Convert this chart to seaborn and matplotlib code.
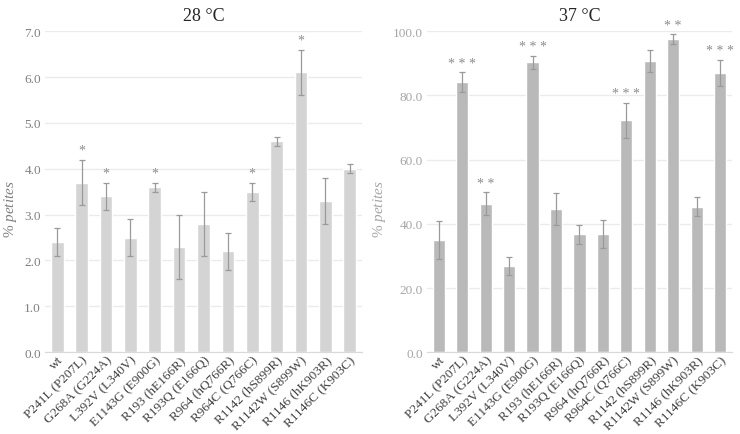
import pandas as pd
import matplotlib
matplotlib.use("Agg")
import matplotlib.pyplot as plt
import seaborn as sns

# data
strains = ["wt", "P241L (P207L)", "G268A (G224A)", "L392V (L340V)", "E1143G (E900G)",
           "R193 (hE166R)", "R193Q (E166Q)", "R964 (hQ766R)", "R964C (Q766C)",
           "R1142 (hS899R)", "R1142W (S899W)", "R1146 (hK903R)", "R1146C (K903C)"]
pet28 = [2.4, 3.7, 3.4, 2.5, 3.6, 2.3, 2.8, 2.2, 3.5, 4.6, 6.1, 3.3, 4.0]
err28 = [0.3, 0.5, 0.3, 0.4, 0.1, 0.7, 0.7, 0.4, 0.2, 0.1, 0.5, 0.5, 0.1]
sig28 = ["", "*", "*", "", "*", "", "", "", "*", "", "*", "", ""]
pet37 = [35.0, 84.2, 46.3, 26.8, 90.3, 44.5, 36.7, 36.9, 72.2, 90.7, 97.5, 45.3, 87.0]
err37 = [6.0, 3.0, 3.5, 2.8, 2.0, 5.0, 3.0, 4.3, 5.4, 3.5, 1.5, 3.0, 4.0]
sig37 = ["", "***", "**", "", "***", "", "", "", "***", "", "**", "", "***"]

sns.set_style("white")
plt.rcParams["font.family"] = ["Liberation Serif", "DejaVu Serif"]
plt.rcParams["mathtext.fontset"] = "custom"
plt.rcParams["mathtext.rm"] = "Liberation Serif"
plt.rcParams["mathtext.it"] = "Liberation Serif:italic"

fig = plt.figure(figsize=(7.4, 4.35), dpi=100)
ax1 = fig.add_axes([0.061, 0.188, 0.428, 0.738])
ax2 = fig.add_axes([0.577, 0.188, 0.412, 0.738])

panels = [
    (ax1, pet28, err28, sig28, "#d4d4d4", "28 °C", 7.0, 1.0, "#808080", -0.082),
    (ax2, pet37, err37, sig37, "#b9b9b9", "37 °C", 100.0, 20.0, "#a6a6a6", -0.128),
]

for ax, vals, errs, sig, col, title, ymax, step, tcol, lx in panels:
    df = pd.DataFrame({"strain": strains, "pct": vals})
    sns.barplot(data=df, x="strain", y="pct", color=col, width=0.52,
                saturation=1, errorbar=None, ax=ax)
    ax.errorbar(range(len(strains)), vals, yerr=errs, fmt="none",
                ecolor="#9a9a9a", elinewidth=0.9, capsize=2.5, capthick=0.9)
    for i, s in enumerate(sig):
        if s:
            ax.annotate(" ".join(s), (i, vals[i] + errs[i]), xytext=(0, 2),
                        textcoords="offset points", ha="center", va="bottom",
                        fontsize=10, color="#8c8c8c")
    ax.set_xlim(-0.5, len(strains) - 0.5)
    ax.set_ylim(0, ymax)
    ticks = [step * k for k in range(int(round(ymax / step)) + 1)]
    ax.set_yticks(ticks)
    ax.set_yticklabels([f"{t:.1f}" for t in ticks])
    ax.yaxis.grid(True, color="#ebebeb", linewidth=1)
    ax.set_axisbelow(True)
    for side in ["left", "right", "top"]:
        ax.spines[side].set_visible(False)
    ax.spines["bottom"].set_color("#d9d9d9")
    ax.tick_params(axis="y", length=0, labelsize=9.5, labelcolor=tcol, pad=3)
    ax.tick_params(axis="x", length=0, labelsize=9.5, labelcolor="#404040", pad=1)
    plt.setp(ax.get_xticklabels(), rotation=45, ha="right", rotation_mode="anchor")
    ax.set_xlabel("")
    ax.set_ylabel(r"% $\mathit{petites}$", fontsize=11, color=tcol)
    ax.yaxis.set_label_coords(lx, 0.45)
    ax.set_title(title, fontsize=13, color="#262626", pad=8)

fig.savefig("out.png", dpi=100)
